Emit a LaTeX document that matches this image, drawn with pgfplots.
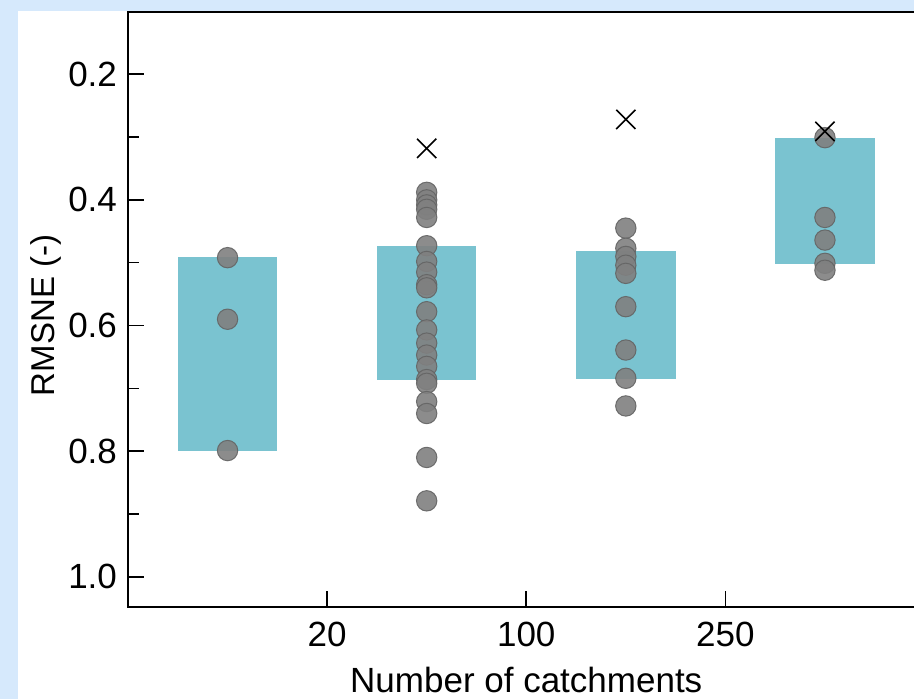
\documentclass[border=0pt]{standalone}
\usepackage{pgfplots}
\pgfplotsset{compat=1.18}
\usepackage{fontspec}
\setmainfont{Liberation Sans}
\definecolor{bgblue}{RGB}{214,233,252}
\definecolor{boxcol}{RGB}{122,195,208}
\definecolor{ptfill}{RGB}{128,128,128}
\definecolor{ptedge}{RGB}{100,100,100}
\begin{document}
\begin{tikzpicture}
\fill[bgblue] (0,0) rectangle (457pt,349.5pt);
\fill[white] (9pt,0) rectangle (457pt,344pt);
\begin{axis}[
  at={(64pt,46pt)}, anchor=south west,
  scale only axis, width=398.25pt, height=297.5pt,
  xmin=-0.5, xmax=3.5, ymin=0.101, ymax=1.048,
  y dir=reverse,
  axis line style={line width=0.8pt},
  xtick={0.5,1.5,2.5}, xticklabels={20,100,250},
  ytick={0.2,0.4,0.6,0.8,1.0}, yticklabels={0.2,0.4,0.6,0.8,1.0},
  minor ytick={0.3,0.5,0.7,0.9},
  xtick pos=bottom, ytick pos=left,
  tick align=inside,
  major tick length=8pt, minor tick length=5.5pt,
  tick style={line width=0.8pt, black},
  /pgf/number format/assume math mode=true,
  tick label style={font=\fontsize{17.5}{19}\selectfont},
  yticklabel style={xshift=-2pt},
  xticklabel style={yshift=-4pt},
  xlabel={Number of catchments},
  ylabel={RMSNE (-)},
  xlabel style={font=\fontsize{17.5}{19}\selectfont, at={(axis description cs:0.5,-0.1227)}, anchor=center},
  ylabel style={font=\fontsize{16.5}{19}\selectfont, at={(axis description cs:-0.1030,0.49)}, anchor=center},
  clip=false,
]
% boxes
\addplot[fill=boxcol, draw=none] coordinates {(-0.25,0.491) (0.25,0.491) (0.25,0.799) (-0.25,0.799)} -- cycle;
\addplot[fill=boxcol, draw=none] coordinates {(0.75,0.473) (1.25,0.473) (1.25,0.686) (0.75,0.686)} -- cycle;
\addplot[fill=boxcol, draw=none] coordinates {(1.75,0.481) (2.25,0.481) (2.25,0.685) (1.75,0.685)} -- cycle;
\addplot[fill=boxcol, draw=none] coordinates {(2.75,0.302) (3.25,0.302) (3.25,0.502) (2.75,0.502)} -- cycle;
% points
\addplot[only marks, mark=*, mark size=5.1pt, mark options={fill=ptfill, draw=ptedge, line width=0.5pt, opacity=0.9}] coordinates {
(0,0.492) (0,0.590) (0,0.799)
(1,0.388) (1,0.400) (1,0.408) (1,0.415) (1,0.428) (1,0.473) (1,0.498) (1,0.515) (1,0.535) (1,0.540)
(1,0.578) (1,0.607) (1,0.628) (1,0.647) (1,0.665) (1,0.686) (1,0.692) (1,0.721) (1,0.740) (1,0.810) (1,0.879)
(2,0.445) (2,0.477) (2,0.490) (2,0.504) (2,0.517) (2,0.570) (2,0.639) (2,0.684) (2,0.728)
(3,0.301) (3,0.428) (3,0.464) (3,0.501) (3,0.512)
};
% crosses
\addplot[only marks, mark=x, mark size=6.8pt, mark options={draw=black, line width=0.8pt}] coordinates {
(1,0.318) (2,0.272) (3,0.291)
};
\end{axis}
\pgfresetboundingbox
\useasboundingbox (0,0) rectangle (457pt,349.5pt);
\end{tikzpicture}
\end{document}
